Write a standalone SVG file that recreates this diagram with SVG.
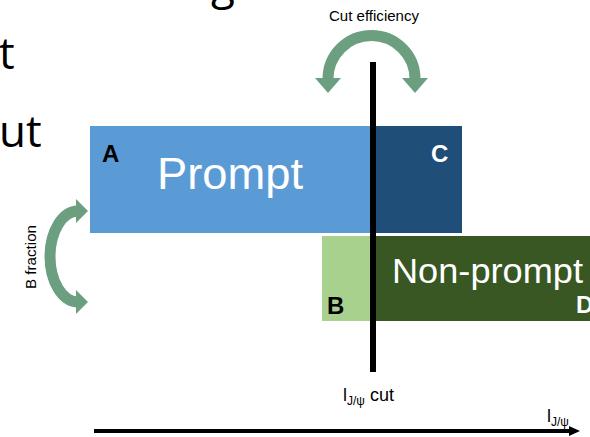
<svg xmlns="http://www.w3.org/2000/svg" width="590" height="437" viewBox="0 0 590 437">
<style>
.lbl{font-family:"Liberation Sans",Arial,sans-serif;}
.big{font-family:"Open Sans","Liberation Sans",sans-serif;font-size:44px;fill:#000;}
.bold{font-family:"Liberation Sans",Arial,sans-serif;font-weight:bold;font-size:24px;}
.arc{fill:none;stroke:#6B9F80;stroke-width:11;}
.head{fill:#6B9F80;}
</style>
<rect width="590" height="437" fill="#fff"/>
<g id="slide-text">
<text class="big" x="211" y="-1">g</text>
<text class="big" x="-1" y="69">t</text>
<text class="big" x="-1" y="147">ut</text>
</g>
<g id="prompt">
<rect x="90" y="126" width="283" height="107" fill="#5B9BD5"/>
<rect x="373" y="126" width="89" height="107" fill="#1F4E79"/>
<text class="bold" x="102" y="162" fill="#000">A</text>
<text class="lbl" x="157" y="189" font-size="45" fill="#fff" textLength="146" lengthAdjust="spacingAndGlyphs">Prompt</text>
<text class="bold" x="431" y="162" fill="#fff">C</text>
</g>
<g id="nonprompt">
<rect x="322" y="236" width="51" height="85" fill="#A9D18E"/>
<rect x="373" y="236" width="217" height="85" fill="#385723"/>
<text class="lbl" x="392" y="283" font-size="35" fill="#fff" textLength="191" lengthAdjust="spacingAndGlyphs">Non-prompt</text>
<text class="bold" x="327" y="314" fill="#000">B</text>
<text class="bold" x="576" y="313" fill="#fff">D</text>
</g>
<g id="cut-line">
<rect x="370" y="62" width="6" height="310" fill="#000"/>
<text class="lbl" x="343" y="401" font-size="18" fill="#000">l<tspan font-size="12" dy="4">J/ψ</tspan><tspan font-size="18" dy="-4"> cut</tspan></text>
</g>
<g id="connectors">
<g id="cut-efficiency">
<path class="arc" d="M 328 79 A 43.5 43.5 0 0 1 415 79"/>
<polygon class="head" points="315,78 341,78 328,93"/>
<polygon class="head" points="402,78 428,78 415,93"/>
<text class="lbl" x="329" y="21" font-size="14" fill="#000" textLength="90" lengthAdjust="spacingAndGlyphs">Cut efficiency</text>
</g>
<g id="b-fraction">
<path class="arc" d="M 78 211 A 28 45.5 0 0 0 78 302"/>
<polygon class="head" points="76,199 76,223 88,211"/>
<polygon class="head" points="76,290 76,314 88,302"/>
<text class="lbl" x="36" y="257" font-size="14" fill="#000" text-anchor="middle" textLength="64" lengthAdjust="spacingAndGlyphs" transform="rotate(-90 36 257)">B fraction</text>
</g>
<g id="axis">
<line x1="94" y1="431" x2="571" y2="431" stroke="#000" stroke-width="4"/>
<polygon points="569,426 580,431 569,436" fill="#000"/>
<text class="lbl" x="547" y="422" font-size="18" fill="#000">l<tspan font-size="12" dy="4">J/ψ</tspan></text>
</g>
</g>
</svg>
